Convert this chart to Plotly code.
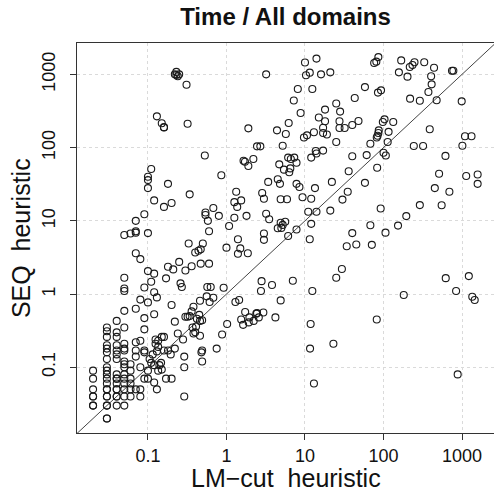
import plotly.graph_objects as go

# LM-cut heuristic time (x) and SEQ heuristic time (y), seconds
lmcut_time = [
    0.02, 0.02, 0.02, 0.02, 0.02, 0.02, 0.02,
    0.03, 0.03, 0.03, 0.03, 0.03, 0.03, 0.03, 0.03, 0.03, 0.03, 0.03, 0.03, 0.03, 0.03, 0.03, 0.03, 0.03, 0.03, 0.03, 0.03,
    0.04, 0.04, 0.04, 0.04, 0.04, 0.04, 0.04, 0.04, 0.04, 0.04, 0.04, 0.04, 0.04, 0.04, 0.04, 0.04,
    0.05, 0.05, 0.05, 0.05, 0.05, 0.05, 0.05, 0.05, 0.05, 0.05, 0.05, 0.05, 0.05, 0.05, 0.05, 0.05, 0.05, 0.05,
    0.06, 0.06, 0.06, 0.06, 0.06, 0.06, 0.06,
    0.07, 0.07, 0.07, 0.07, 0.07, 0.07, 0.07, 0.07, 0.07,
    0.08, 0.08, 0.08, 0.08, 0.08, 0.08,
    0.09, 0.09, 0.09, 0.09, 0.09, 0.09, 0.09,
    0.1, 0.1, 0.1, 0.1, 0.1, 0.1, 0.1, 0.1,
    0.105, 0.11, 0.115, 0.11, 0.11, 0.12, 0.12, 0.12, 0.12, 0.12, 0.12, 0.125, 0.125, 0.13, 0.13, 0.13, 0.13,
    0.135, 0.135, 0.135, 0.14, 0.147, 0.15, 0.15, 0.15, 0.16, 0.16, 0.16, 0.16, 0.16, 0.17, 0.17, 0.18, 0.18,
    0.18, 0.195, 0.2, 0.2, 0.2, 0.21, 0.22, 0.23, 0.25, 0.24, 0.23, 0.22, 0.22, 0.24, 0.25, 0.26, 0.27, 0.28,
    0.29, 0.29, 0.29, 0.3, 0.3, 0.31, 0.32, 0.32, 0.33, 0.34, 0.34, 0.36, 0.36, 0.37, 0.38, 0.38, 0.4, 0.4,
    0.41, 0.42, 0.44, 0.45, 0.46, 0.46, 0.46, 0.47, 0.47, 0.48, 0.49, 0.49, 0.49, 0.5, 0.53, 0.54, 0.54, 0.56,
    0.57, 0.58, 0.6, 0.6, 0.61, 0.63, 0.68, 0.68, 0.75, 0.8, 0.86, 0.88, 0.92, 1.0, 1.02, 1.08, 1.26, 1.26,
    1.3, 1.33, 1.37, 1.4, 1.4, 1.45, 1.5, 1.54, 1.54, 1.63, 1.65, 1.72, 1.73, 1.8, 1.87, 1.9, 1.9, 1.92,
    1.96, 2.2, 2.22, 2.4, 2.45, 2.45, 2.58, 2.7, 2.75, 2.8, 2.85, 2.95, 3.0, 3.0, 3.0, 3.2, 3.2, 3.4,
    3.5, 3.8, 4.2, 4.4, 4.5, 4.5, 4.7, 4.8, 4.9, 4.9, 4.9, 5.0, 5.2, 5.2, 5.4, 5.6, 5.7, 5.9,
    6.1, 6.1, 6.2, 6.3, 6.5, 6.6, 7.0, 7.2, 7.3, 7.8, 7.8, 7.8, 8.1, 8.5, 8.8, 9.3, 9.7, 10,
    10.3, 10.6, 11, 11.5, 11.5, 11.6, 11.8, 12, 12, 12, 12.4, 12.4, 13, 13, 13.4, 13.7, 14, 14,
    14, 15, 16, 17, 17, 17, 18, 18, 19, 21, 21, 22, 23, 25, 25, 25, 27.5, 27.5,
    28, 29.5, 30, 32, 34, 35, 36, 40, 40, 40, 43, 45, 48, 58, 58, 61, 68, 68,
    71, 76, 81, 82, 82, 83, 84, 85, 86, 86, 87, 92, 93, 98, 100, 103, 106, 107,
    113, 116, 133, 153, 157, 168, 181, 195, 202, 216, 218, 234, 243, 248, 290, 290, 319, 330,
    373, 388, 404, 410, 440, 450, 475, 510, 550, 615, 620, 690, 745, 775, 840, 880, 990, 1010,
    1090, 1130, 1220, 1320, 1350, 1450, 1580, 1580,
]

seq_time = [
    0.09, 0.07, 0.05, 0.04, 0.04, 0.03, 0.03,
    0.35, 0.31, 0.26, 0.2, 0.18, 0.16, 0.13, 0.1, 0.09, 0.08, 0.07, 0.06, 0.05, 0.05, 0.04, 0.04, 0.03, 0.03, 0.02, 0.02,
    0.43, 0.3, 0.26, 0.2, 0.17, 0.15, 0.13, 0.08, 0.07, 0.07, 0.06, 0.05, 0.05, 0.04, 0.04, 0.03,
    6.4, 1.67, 1.19, 1.1, 0.59, 0.35, 0.21, 0.18, 0.17, 0.12, 0.11, 0.1, 0.08, 0.07, 0.06, 0.05, 0.04, 0.03,
    6.7, 0.11, 0.09, 0.07, 0.06, 0.05, 0.04,
    10, 7.2, 6.9, 3.6, 0.63, 0.22, 0.17, 0.14, 0.05,
    3.0, 0.84, 0.23, 0.1, 0.05, 0.04,
    12.3, 1.23, 0.47, 0.33, 0.17, 0.16, 0.07,
    40, 36, 28, 6.8, 2.06, 0.77, 0.09, 0.07,
    0.13, 0.115, 0.15, 51, 1.47, 19, 1.9, 1.06, 0.53, 0.107, 0.062, 0.24, 0.21, 267, 0.9, 0.165, 0.05,
    0.23, 0.19, 0.09, 0.107, 0.115, 215, 0.26, 0.093, 190, 188, 15.5, 0.26, 0.17, 1.64, 0.07, 32, 2.36,
    0.17, 0.15, 17.5, 0.71, 0.07, 2.17, 1000, 1080, 1000, 940, 980, 0.42, 0.18, 0.29, 2.75, 1.4, 1.25, 0.24,
    0.14, 0.1, 0.04, 2.1, 0.49, 720, 212, 0.49, 4.9, 23, 0.5, 2.4, 0.58, 0.35, 0.67, 0.29, 3.7, 0.3,
    0.36, 0.46, 3.9, 0.52, 0.81, 0.43, 0.27, 4.1, 2.6, 0.16, 0.44, 0.17, 0.12, 4.9, 78, 13, 12, 0.93,
    1.25, 10, 7.2, 2.6, 0.78, 1.25, 15, 0.89, 0.18, 11.7, 42, 0.28, 1.22, 4.3, 0.39, 8.5, 18, 11,
    0.78, 25, 15.5, 5.6, 3.55, 0.83, 4.2, 19, 0.45, 0.38, 66, 64, 0.57, 11.7, 3.6, 183, 56, 0.41,
    0.48, 70, 0.43, 0.54, 104, 0.55, 0.48, 104, 1.1, 1.5, 24, 0.56, 20, 6.7, 5.5, 1000, 12.5, 34,
    10.5, 1.33, 0.48, 172, 37, 7.9, 59, 32, 19.7, 9.4, 0.82, 8.0, 106, 8.8, 50, 9.7, 153, 19.7,
    73, 6.2, 217, 46, 52, 70, 1.52, 440, 73, 62, 32, 7.6, 630, 29, 297, 21, 137, 1450,
    970, 147, 13.3, 1055, 5.6, 0.18, 0.39, 73, 20, 9.1, 630, 1.1, 162, 0.06, 28, 90, 1640, 83,
    13.3, 257, 1000, 187, 158, 91, 229, 330, 151, 1065, 13.8, 34, 0.21, 400, 119, 1.67, 229, 185,
    310, 2.2, 19.5, 185, 4.5, 25, 47.5, 203, 76, 6.8, 475, 4.75, 231, 670, 33, 79, 113, 8.7,
    4.7, 1430, 1490, 137, 0.45, 53, 145, 563, 1720, 158, 172, 14.7, 605, 224, 85, 243, 6.9, 78,
    119, 164, 224, 8.6, 1065, 1550, 0.97, 11.6, 930, 1260, 466, 1340, 105, 1460, 437, 16.4, 105, 1460,
    575, 178, 940, 730, 1230, 28, 442, 44, 16.3, 77, 1.65, 25, 1120, 1120, 1.1, 0.08, 428, 106,
    143, 41, 1.76, 143, 0.92, 0.83, 43, 32,
]

tick_vals = [0.1, 1, 10, 100, 1000]
tick_text = ["0.1", "1", "10", "100", "1000"]
diag = [0.001, 100000]

title_text = "Time / All domains"
x_title = "LM\u2212cut\u00a0 heuristic"
y_title = "SEQ\u00a0 heuristic"

FONT = "Liberation Sans, Arial, Helvetica, sans-serif"
AX = "#333333"

fig = go.Figure()
fig.add_trace(go.Scatter(
    x=diag, y=diag, mode="lines",
    line=dict(color="#444444", width=1), hoverinfo="skip", showlegend=False,
))
fig.add_trace(go.Scatter(
    x=lmcut_time, y=seq_time, mode="markers",
    marker=dict(symbol="circle-open", size=7, color="#1a1a1a", line=dict(width=1.1, color="#1a1a1a")),
    showlegend=False,
))

axis_common = dict(
    type="log",
    tickvals=tick_vals, ticktext=tick_text,
    ticks="outside", ticklen=6, tickwidth=1, tickcolor=AX,
    showline=True, linecolor=AX, linewidth=1,
    showgrid=True, gridcolor="#dadada", gridwidth=1, griddash="dot",
    zeroline=False,
    tickfont=dict(family=FONT, size=18, color="#111111"),
)

fig.update_layout(
    width=494, height=491,
    margin=dict(l=77, r=0, t=43, b=58),
    paper_bgcolor="white", plot_bgcolor="white",
    font=dict(family=FONT, color="#111111"),
    title=dict(text="<b>" + title_text + "</b>", x=0.5, xref="paper", xanchor="center",
               y=1 - 16.5 / 491, yref="container", yanchor="middle",
               font=dict(family=FONT, size=24, color="#111111")),
    xaxis=dict(range=[-1.9035, 3.407], mirror=True, **axis_common),
    yaxis=dict(range=[-1.897, 3.428], mirror=False, tickangle=-90,
               ticklabelstandoff=8, **axis_common),
    annotations=[
        dict(text=x_title, xref="paper", yref="paper", x=0.5, y=-0.115,
             xanchor="center", yanchor="middle", showarrow=False,
             font=dict(family=FONT, size=25, color="#111111")),
        dict(text=y_title, xref="paper", yref="paper", x=-0.134, y=0.5,
             xanchor="center", yanchor="middle", textangle=-90, showarrow=False,
             font=dict(family=FONT, size=25, color="#111111")),
    ],
)

# remove the browser's default 8px body margin so the figure fills the window exactly
fig.write_html(
    "out.html",
    config={"displayModeBar": False},
    post_script="document.body.style.margin='0px';document.body.style.overflow='hidden';",
)
